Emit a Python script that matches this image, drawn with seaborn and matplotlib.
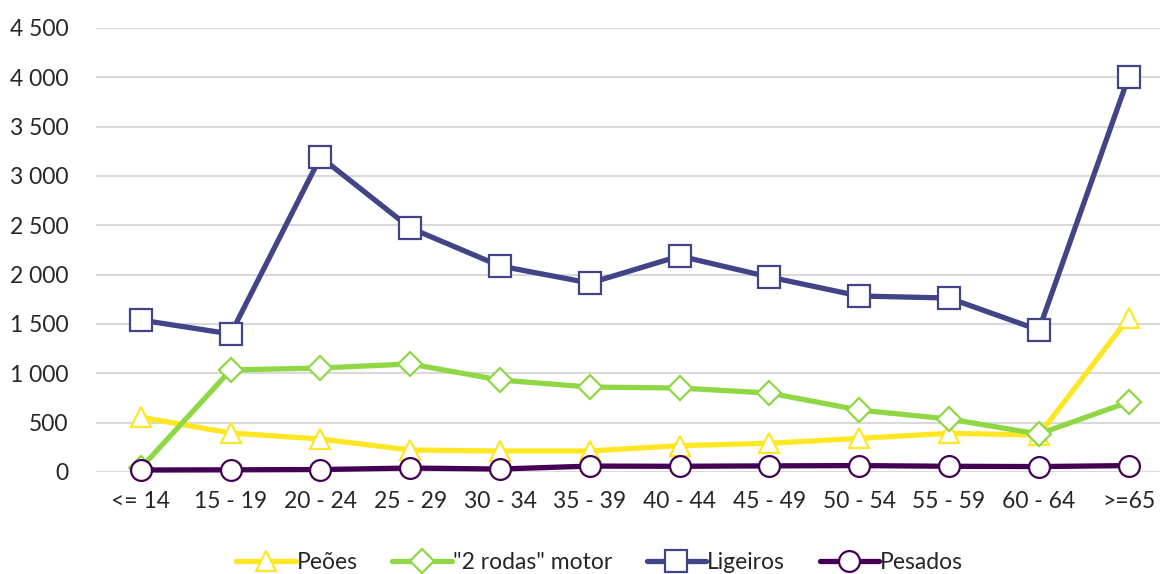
import matplotlib
matplotlib.use("Agg")
import matplotlib.pyplot as plt
import matplotlib.ticker as mticker
import seaborn as sns
import pandas as pd

categories = ["<= 14", "15 - 19", "20 - 24", "25 - 29", "30 - 34", "35 - 39",
              "40 - 44", "45 - 49", "50 - 54", "55 - 59", "60 - 64", ">=65"]
peoes = [555, 395, 334, 223, 213, 213, 267, 291, 341, 392, 375, 1560]
duas_rodas = [40, 1034, 1054, 1095, 932, 861, 851, 800, 628, 537, 385, 709]
ligeiros = [1540, 1399, 3192, 2473, 2088, 1915, 2189, 1976, 1784, 1763, 1439, 4003]
pesados = [20, 22, 25, 40, 30, 60, 58, 62, 65, 58, 55, 65]

series_names = ["Peões", "\"2 rodas\" motor", "Ligeiros", "Pesados"]
series_values = [peoes, duas_rodas, ligeiros, pesados]
colors = ["#FDE725", "#8FD744", "#414487", "#440154"]
markers = ["^", "D", "s", "o"]
msizes = [15, 12, 16, 15]

sns.set_theme(style="white")
plt.rcParams["font.family"] = ["Lato", "DejaVu Sans"]

fig = plt.figure(figsize=(11.6, 5.74), dpi=100)
ax = fig.add_axes([96 / 1160, 1 - 472 / 574, 1 - 96 / 1160, (472 - 28) / 574])

x_pos = list(range(len(categories)))
for name, vals, c, m, ms in zip(series_names, series_values, colors, markers, msizes):
    df = pd.DataFrame({"x": x_pos, "y": vals})
    sns.lineplot(data=df, x="x", y="y", ax=ax, color=c, lw=3.8, marker=m,
                 markersize=ms, markerfacecolor="white", markeredgecolor=c,
                 markeredgewidth=1.6, label=name, sort=False, clip_on=False)

ax.set_xlim(-0.5, 11.35)
ax.set_ylim(0, 4500)
ax.set_xticks(x_pos)
ax.set_xticklabels(categories)
ax.yaxis.set_major_locator(mticker.MultipleLocator(500))
ax.yaxis.set_major_formatter(mticker.FuncFormatter(lambda v, p: f"{int(v):,}".replace(",", " ")))
ax.grid(axis="y", color="#D9D9D9", lw=1.5)
ax.set_axisbelow(True)
for s in ax.spines.values():
    s.set_visible(False)
ax.tick_params(axis="both", labelsize=16.5, colors="#262626", length=0)
ax.tick_params(axis="x", pad=14)
ax.tick_params(axis="y", pad=20)
ax.set_xlabel("")
ax.set_ylabel("")

handles, labels = ax.get_legend_handles_labels()
ax.get_legend().remove()
fig.legend(handles, labels, loc="center", bbox_to_anchor=(0.517, 0.02), ncol=4,
           frameon=False, fontsize=16.5, handlelength=2.6, handletextpad=0.05,
           columnspacing=1.5)

fig.savefig("out.png", dpi=100)
